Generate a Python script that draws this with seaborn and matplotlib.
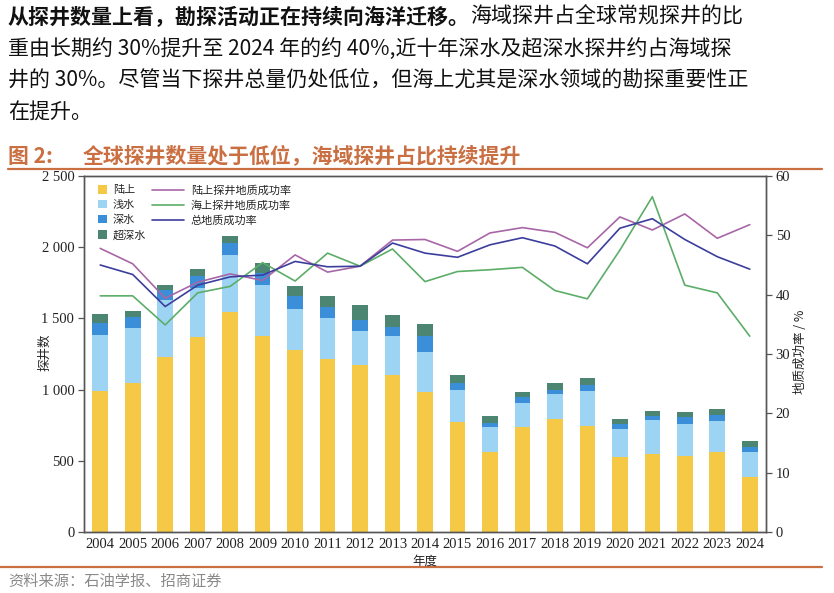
import numpy as np
import pandas as pd
import matplotlib
matplotlib.use("Agg")
import matplotlib.pyplot as plt
import seaborn as sns
from matplotlib import font_manager
from matplotlib.patches import Patch
from matplotlib.lines import Line2D

# Data
years = list(range(2004, 2025))
land = [987, 1046, 1228, 1369, 1545, 1373, 1278, 1217, 1174, 1104, 982,
        771, 563, 736, 793, 741, 527, 551, 535, 563, 383]
shallow = [398, 386, 403, 345, 403, 362, 290, 283, 235, 269, 284,
           225, 171, 169, 175, 251, 197, 235, 220, 216, 180]
deep = [83, 78, 66, 81, 82, 84, 92, 80, 82, 67, 112,
        47, 28, 45, 28, 38, 36, 30, 52, 42, 33]
ultra = [65, 42, 40, 52, 47, 70, 65, 80, 101, 84, 80,
         61, 52, 35, 47, 51, 35, 33, 37, 40, 42]

land_rate = [47.8, 45.2, 39.4, 42.1, 43.5, 42.4, 46.7, 43.8, 44.8, 49.2, 49.3,
             47.3, 50.4, 51.3, 50.5, 47.9, 53.1, 50.9, 53.6, 49.5, 51.8]
sea_rate = [39.8, 39.8, 34.9, 40.3, 41.4, 45.4, 42.3, 47.0, 44.8, 47.7, 42.2,
            43.9, 44.2, 44.6, 40.7, 39.3, 47.5, 56.5, 41.6, 40.3, 33.0]
total_rate = [45.0, 43.4, 38.0, 41.6, 43.0, 43.3, 45.6, 44.7, 44.8, 48.7, 47.0,
              46.3, 48.4, 49.6, 48.2, 45.2, 51.2, 52.8, 49.3, 46.4, 44.3]

left_ticks = [0, 500, 1000, 1500, 2000, 2500]
left_labels = ["0", "500", "1 000", "1 500", "2 000", "2 500"]
right_ticks = [0, 10, 20, 30, 40, 50, 60]

bar_names = ["陆上", "浅水", "深水", "超深水"]
line_names = ["陆上探井地质成功率", "海上探井地质成功率", "总地质成功率"]

c_land, c_shallow, c_deep, c_ultra = "#F5C945", "#9ED4F3", "#3B8FD8", "#4D8573"
c_lrate, c_srate, c_trate = "#A866A6", "#5CAD68", "#3C3E9C"
c_brand = "#C96F42"

sns.set_theme(style="white")
cjk = ["Noto Sans CJK SC", "DejaVu Sans"]
plt.rcParams["font.family"] = cjk

# find a Times-like serif file for the tick numbers
serif_path = None
for f in font_manager.fontManager.ttflist:
    if f.name == "Liberation Serif" and f.style == "normal" and f.weight in (400, "normal", "regular"):
        serif_path = f.fname
        break
if serif_path is None:
    serif_path = font_manager.findfont(font_manager.FontProperties(family="serif"))
tick_fp = font_manager.FontProperties(fname=serif_path, size=10.5)

df = pd.DataFrame({"year": years, "land": land, "shallow": shallow,
                   "deep": deep, "ultra": ultra})
df["c1"] = df["land"]
df["c2"] = df["c1"] + df["shallow"]
df["c3"] = df["c2"] + df["deep"]
df["c4"] = df["c3"] + df["ultra"]

W, H = 834, 593
fig = plt.figure(figsize=(W / 100, H / 100), dpi=100)
ax = fig.add_axes([84 / W, 1 - 532 / H, (766 - 84) / W, (532 - 176) / H])

# stacked bars: draw cumulative totals largest first
for col, c in [("c4", c_ultra), ("c3", c_deep), ("c2", c_shallow), ("c1", c_land)]:
    sns.barplot(data=df, x="year", y=col, color=c, saturation=1, width=0.48,
                ax=ax, linewidth=0)

ax2 = ax.twinx()
idx = np.arange(len(years))
for vals, c in [(land_rate, c_lrate), (sea_rate, c_srate), (total_rate, c_trate)]:
    sns.lineplot(x=idx, y=vals, color=c, lw=1.2, ax=ax2)

ax.set_xlim(-0.5, len(years) - 0.5)
ax.set_ylim(0, 2500)
ax2.set_ylim(0, 60)
ax.set_yticks(left_ticks, labels=left_labels)
ax2.set_yticks(right_ticks, labels=[str(v) for v in right_ticks])
ax.set_xticks(idx, labels=[str(y) for y in years])
ax.set_xlabel("")
ax.set_ylabel("")
ax2.set_ylabel("")

ax.tick_params(axis="y", direction="out", length=4, width=0.9, color="#555555", pad=3,
               labelcolor="#222222")
ax.tick_params(axis="x", length=0, pad=4, labelcolor="#222222")
ax2.tick_params(axis="y", direction="out", length=4, width=0.9, color="#555555", pad=3,
                labelcolor="#222222")
for a in (ax, ax2):
    for s in a.spines.values():
        s.set_color("#555555")
        s.set_linewidth(1.0)
        s.set_visible(True)

# legends
bar_handles = [Patch(facecolor=c, edgecolor="none") for c in (c_land, c_shallow, c_deep, c_ultra)]
leg1 = ax2.legend(bar_handles, bar_names, loc="upper left",
                  bbox_to_anchor=(98 / W, 1 - 185 / H), bbox_transform=fig.transFigure,
                  frameon=False, fontsize=8, handlelength=0.8, handleheight=0.8,
                  handletextpad=0.55, labelspacing=0.42, borderpad=0, borderaxespad=0)
ax2.add_artist(leg1)
line_handles = [Line2D([], [], color=c, lw=1.2) for c in (c_lrate, c_srate, c_trate)]
ax2.legend(line_handles, line_names, loc="upper left",
           bbox_to_anchor=(152 / W, 1 - 185 / H), bbox_transform=fig.transFigure,
           frameon=False, fontsize=8, handlelength=2.9, handletextpad=0.6,
           labelspacing=0.42, borderpad=0, borderaxespad=0)

# axis titles
fig.text(45 / W, 1 - 352 / H, "探井数", rotation=90, ha="center", va="center",
         fontsize=9, color="#222222", family=cjk)
fig.text(801 / W, 1 - 352 / H, "地质成功率 / %", rotation=90, ha="center", va="center",
         fontsize=9, color="#222222", family=cjk)
fig.text(425 / W, 1 - 561 / H, "年度", ha="center", va="center",
         fontsize=9, color="#222222", family=cjk)

# header paragraph
fs = 15.1
renderer = fig.canvas.get_renderer()
t_bold = fig.text(8 / W, 1 - 17 / H, "从探井数量上看，勘探活动正在持续向海洋迁移。",
                  ha="left", va="center", fontsize=fs, fontweight="bold",
                  color="#111111", family=cjk)
bb = t_bold.get_window_extent(renderer)
fig.text(bb.x1 / W, 1 - 17 / H, "海域探井占全球常规探井的比",
         ha="left", va="center", fontsize=fs, color="#111111", family=cjk)
para = ["重由长期约 30%提升至 2024 年的约 40%,近十年深水及超深水探井约占海域探",
        "井的 30%。尽管当下探井总量仍处低位，但海上尤其是深水领域的勘探重要性正",
        "在提升。"]
for i, line in enumerate(para):
    fig.text(8 / W, 1 - (49 + 32 * i) / H, line, ha="left", va="center",
             fontsize=fs, color="#111111", family=cjk)

# figure title and rules
fig.text(8 / W, 1 - 156 / H, "图 2:", ha="left", va="center", fontsize=15,
         fontweight="bold", color=c_brand, family=cjk)
fig.text(83 / W, 1 - 156 / H, "全球探井数量处于低位，海域探井占比持续提升", ha="left",
         va="center", fontsize=15, fontweight="bold", color=c_brand, family=cjk)
fig.add_artist(Line2D([8 / W, 822 / W], [1 - 169 / H, 1 - 169 / H],
                      color=c_brand, lw=1.6, transform=fig.transFigure))
fig.add_artist(Line2D([0 / W, 822 / W], [1 - 567 / H, 1 - 567 / H],
                      color=c_brand, lw=1.6, transform=fig.transFigure))
fig.text(8 / W, 1 - 581 / H, "资料来源：石油学报、招商证券", ha="left", va="center",
         fontsize=11, color="#8A8A8A", family=cjk)

# apply the serif face to tick numbers after ticks exist
fig.canvas.draw()
for lab in ax.get_xticklabels() + ax.get_yticklabels() + ax2.get_yticklabels():
    lab.set_fontproperties(tick_fp)

fig.savefig("out.png", dpi=100)
